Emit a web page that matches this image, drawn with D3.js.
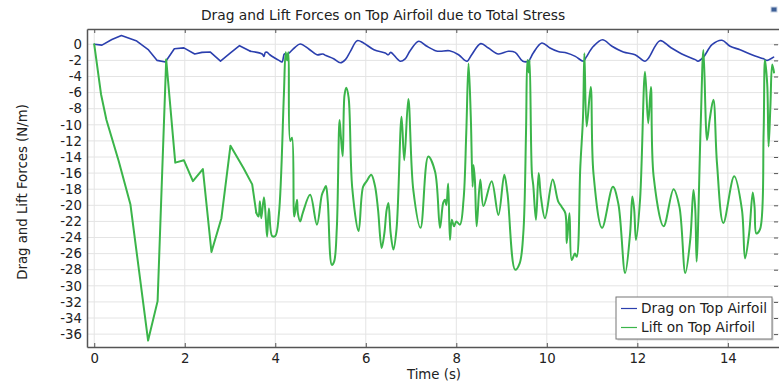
<!DOCTYPE html>
<html>
<head>
<meta charset="utf-8">
<script src="https://cdn.jsdelivr.net/npm/d3@7"></script>
<style>
  html, body { margin: 0; padding: 0; background: #fff; }
  svg { display: block; font-family: "DejaVu Sans", sans-serif; }
</style>
</head>
<body>
<svg id="chart" width="779" height="382"></svg>
<script>
// Drag force on the top airfoil, [time (s), force (N/m)]
const dragPoints = [
  [0,0],[0.17,-0.1],[0.39,0.6],[0.60,1.1],[0.94,0.4],[1.20,-0.7],[1.39,-2.0],[1.57,-2.2],[1.62,-1.8],
  [1.77,-0.55],[1.98,-0.45],[2.22,-1.2],[2.38,-1.0],[2.56,-0.95],[2.79,-2.1],[3.01,-1.08],[3.21,-0.17],
  [3.45,-0.87],[3.71,-1.2],[3.75,-1.5],[3.78,-1.0],[3.82,-1.0],[3.88,-1.3],[4.08,-2.0],[4.15,-2.2],
  [4.20,-1.2],[4.25,-1.3],[4.42,-0.46],[4.55,0.04],[4.74,-0.58],[4.92,-1.3],[5.05,-1.2],[5.12,-1.4],
  [5.29,-1.8],[5.44,-2.3],[5.55,-1.9],[5.66,-0.87],[5.81,0.45],[5.95,0.16],[6.18,-0.67],[6.43,-1.08],
  [6.50,-1.3],[6.55,-1.0],[6.76,-2.1],[6.87,-1.8],[6.98,-0.8],[7.17,0.37],[7.35,-0.25],[7.54,-0.79],
  [7.64,-0.87],[7.85,-0.8],[8.05,-1.3],[8.19,-2.0],[8.24,-2.1],[8.34,-1.3],[8.54,0.08],[8.71,-0.46],
  [8.93,-1.2],[9.15,-0.87],[9.30,-1.0],[9.47,-2.1],[9.59,-2.1],[9.70,-1.08],[9.89,0.16],[10.07,-0.46],
  [10.25,-0.9],[10.44,-1.08],[10.63,-1.5],[10.81,-2.1],[10.87,-1.6],[11.03,-0.25],[11.23,0.57],
  [11.44,-0.25],[11.69,-0.96],[11.95,-1.3],[12.17,-2.1],[12.25,-1.7],[12.50,0.45],[12.73,-0.37],
  [13.02,-1.3],[13.28,-1.9],[13.34,-2.1],[13.46,-1.6],[13.65,-0.05],[13.87,0.5],[14.05,-0.25],
  [14.27,-0.67],[14.53,-1.3],[14.79,-1.8],[14.86,-2.0],[15.01,-1.6]
];

// Lift force on the top airfoil, [time (s), force (N/m)]
const liftPoints = [
  [0,0],[0.15,-6.2],[0.27,-9.4],[0.54,-14.5],[0.80,-19.9],[1.19,-36.8],[1.40,-31.9],[1.59,-1.9],
  [1.79,-14.7],[1.98,-14.4],[2.18,-17.0],[2.40,-15.5],[2.59,-25.8],[2.81,-21.6],[3.01,-12.6],
  [3.30,-15.4],[3.49,-17.4],[3.58,-20.9],[3.63,-21.4],[3.66,-19.5],[3.69,-21.6],[3.75,-19.0],
  [3.79,-21.6],[3.82,-23.9],[3.86,-20.4],[3.93,-23.8],[4.00,-23.8],[4.08,-21.1],[4.19,-6.3],
  [4.23,-1.0],[4.26,-2.0],[4.29,-1.0],[4.33,-12.0],[4.37,-11.6],[4.42,-21.4],[4.48,-19.3],
  [4.50,-21.0],[4.55,-22.0],[4.61,-20.9],[4.77,-18.7],[4.92,-22.4],[5.03,-18.7],[5.09,-17.9],
  [5.12,-17.6],[5.16,-19.5],[5.25,-27.4],[5.30,-27.0],[5.36,-22.8],[5.42,-9.4],[5.45,-11.5],
  [5.49,-13.9],[5.53,-6.3],[5.57,-5.4],[5.62,-6.6],[5.70,-17.8],[5.84,-23.2],[5.94,-17.7],
  [6.02,-17.0],[6.12,-16.2],[6.20,-17.5],[6.27,-20.5],[6.35,-25.3],[6.41,-23.5],[6.46,-20.6],
  [6.50,-19.7],[6.55,-23.5],[6.61,-25.5],[6.68,-22.9],[6.79,-9.0],[6.85,-14.4],[6.94,-6.8],
  [7.05,-18.1],[7.21,-22.8],[7.38,-13.95],[7.53,-15.8],[7.64,-22.8],[7.71,-19.7],[7.75,-19.3],
  [7.78,-20.0],[7.82,-17.3],[7.86,-24.3],[7.90,-21.8],[7.95,-22.6],[8.00,-22.0],[8.08,-22.4],
  [8.16,-19.3],[8.22,-11.0],[8.27,-2.4],[8.32,-9.0],[8.36,-17.7],[8.38,-15.0],[8.41,-16.8],
  [8.45,-22.6],[8.53,-16.8],[8.60,-20.1],[8.78,-17.0],[8.93,-21.2],[9.06,-16.2],[9.13,-18.5],
  [9.30,-28.0],[9.40,-27.2],[9.48,-23.5],[9.54,-11.0],[9.57,-1.95],[9.60,-3.5],[9.62,-1.95],
  [9.67,-16.0],[9.70,-17.5],[9.76,-21.8],[9.82,-16.0],[9.87,-19.0],[9.96,-21.6],[10.13,-16.8],
  [10.25,-19.5],[10.33,-20.2],[10.41,-21.0],[10.44,-24.7],[10.50,-21.0],[10.55,-26.8],
  [10.62,-26.0],[10.66,-26.4],[10.74,-15.2],[10.80,-9.0],[10.83,-1.1],[10.88,-10.2],[10.97,-5.3],
  [11.03,-16.0],[11.22,-22.8],[11.46,-17.7],[11.58,-19.8],[11.73,-28.4],[11.84,-23.5],
  [11.89,-18.9],[11.93,-20.5],[11.97,-24.3],[12.06,-19.3],[12.17,-3.4],[12.24,-9.8],[12.30,-5.3],
  [12.36,-16.4],[12.58,-22.6],[12.80,-18.0],[12.93,-20.2],[13.06,-28.4],[13.17,-24.2],
  [13.24,-18.1],[13.28,-20.5],[13.31,-27.0],[13.40,-10.0],[13.46,-0.7],[13.54,-11.9],
  [13.60,-9.3],[13.68,-6.9],[13.76,-14.8],[13.90,-22.2],[14.14,-16.4],[14.31,-20.5],
  [14.38,-26.6],[14.47,-23.5],[14.55,-18.4],[14.59,-20.2],[14.63,-23.5],[14.71,-23.0],
  [14.79,-11.0],[14.82,-1.95],[14.87,-5.0],[14.90,-12.7],[14.94,-7.7],[14.98,-2.5],[15.02,-3.5]
];

const xTicks = [0, 2, 4, 6, 8, 10, 12, 14];
const yTicks = d3.range(-36, 1, 2);
const seriesNames = ["Drag on Top Airfoil", "Lift on Top Airfoil"];
const seriesColors = ["#2b3fae", "#3bb54a"];
// the solver's first steps are coarse, so that stretch is joined with straight segments
const coarseUntil = 3.58;

const plot = { left: 87, right: 779, top: 29, bottom: 347 };
const svg = d3.select("#chart");

const x = d3.scaleLinear().domain([-0.16, 15.13]).range([plot.left, plot.right]);
const y = d3.scaleLinear().domain([1.9, -37.6]).range([plot.top, plot.bottom]);

// grid
const grid = svg.append("g");
grid.selectAll("line.v").data(xTicks).join("line")
  .attr("x1", d => x(d)).attr("x2", d => x(d))
  .attr("y1", plot.top).attr("y2", plot.bottom)
  .attr("stroke", "#e4e4e4").attr("stroke-width", 1);
grid.selectAll("line.h").data(yTicks).join("line")
  .attr("x1", plot.left).attr("x2", plot.right)
  .attr("y1", d => y(d)).attr("y2", d => y(d))
  .attr("stroke", "#e4e4e4").attr("stroke-width", 1);

// axes with inward ticks
const axisColor = "#555";
const bottomAxis = svg.append("g").attr("transform", `translate(0,${plot.bottom})`)
  .call(d3.axisBottom(x).tickValues(xTicks).tickSizeInner(-4).tickSizeOuter(0).tickPadding(7));
const topAxis = svg.append("g").attr("transform", `translate(0,${plot.top})`)
  .call(d3.axisTop(x).tickValues(xTicks).tickSizeInner(-4).tickSizeOuter(0).tickFormat(""));
const leftAxis = svg.append("g").attr("transform", `translate(${plot.left},0)`)
  .call(d3.axisLeft(y).tickValues(yTicks).tickSizeInner(0).tickSizeOuter(0).tickPadding(5)
    .tickFormat(d => d3.format("d")(d).replace("−", "-")));
const rightAxis = svg.append("g").attr("transform", `translate(${plot.right - 1},0)`)
  .call(d3.axisRight(y).tickValues(yTicks).tickSizeInner(-4).tickSizeOuter(0).tickFormat(""));

[bottomAxis, topAxis, leftAxis, rightAxis].forEach(g => {
  g.select(".domain").attr("stroke", axisColor).attr("stroke-width", 1.5);
  g.selectAll(".tick line").attr("stroke", axisColor).attr("stroke-width", 1);
  g.selectAll("text").attr("font-family", "DejaVu Sans, sans-serif")
    .attr("font-size", 13.3).attr("fill", "#222");
});
rightAxis.select(".domain").attr("stroke", "none");

// series: straight joins over the coarse start, smooth joins afterwards
const straight = d3.line().x(d => x(d[0])).y(d => y(d[1])).curve(d3.curveLinear);
const smooth = d3.line().x(d => x(d[0])).y(d => y(d[1])).curve(d3.curveCatmullRom.alpha(0.5));
svg.append("clipPath").attr("id", "plotClip").append("rect")
  .attr("x", plot.left).attr("y", plot.top)
  .attr("width", plot.right - plot.left).attr("height", plot.bottom - plot.top);

function drawSeries(points, color, width) {
  const head = points.filter(d => d[0] <= coarseUntil);
  const tail = points.filter(d => d[0] >= head[head.length - 1][0]);
  const g = svg.append("g").attr("clip-path", "url(#plotClip)")
    .attr("fill", "none").attr("stroke", color).attr("stroke-width", width)
    .attr("stroke-linejoin", "round").attr("stroke-linecap", "round");
  g.append("path").attr("d", straight(head));
  g.append("path").attr("d", smooth(tail));
}
drawSeries(dragPoints, seriesColors[0], 1.6);
drawSeries(liftPoints, seriesColors[1], 2);

// titles
svg.append("text").attr("x", 383).attr("y", 19.5).attr("text-anchor", "middle")
  .attr("font-size", 13.8).attr("fill", "#222")
  .text("Drag and Lift Forces on Top Airfoil due to Total Stress");
svg.append("text").attr("x", (plot.left + plot.right) / 2 + 1).attr("y", 379.2)
  .attr("text-anchor", "middle").attr("font-size", 13.3).attr("fill", "#222")
  .text("Time (s)");
svg.append("text").attr("transform", "translate(27,192) rotate(-90)")
  .attr("text-anchor", "middle").attr("font-size", 13.3).attr("fill", "#222")
  .text("Drag and Lift Forces (N/m)");

// legend
const legend = svg.append("g").attr("transform", "translate(616,297)");
legend.append("rect").attr("x", 1.5).attr("y", 1.5).attr("width", 156).attr("height", 42)
  .attr("fill", "#bbb").attr("opacity", 0.6);
legend.append("rect").attr("x", 0).attr("y", 0).attr("width", 156).attr("height", 42)
  .attr("fill", "#fff").attr("stroke", "#777").attr("stroke-width", 1);
seriesNames.forEach((name, i) => {
  const yy = 11.5 + i * 19;
  legend.append("line").attr("x1", 5).attr("x2", 21).attr("y1", yy).attr("y2", yy)
    .attr("stroke", seriesColors[i]).attr("stroke-width", 1.2);
  legend.append("text").attr("x", 25).attr("y", yy + 4.5)
    .attr("font-size", 13.7).attr("fill", "#222").text(name);
});

// small toolbar glyph in the corner
svg.append("rect").attr("x", 771).attr("y", 7).attr("width", 6).attr("height", 5)
  .attr("fill", "#3d5f96").attr("stroke", "#c9d3e3").attr("stroke-width", 1);
</script>
</body>
</html>
